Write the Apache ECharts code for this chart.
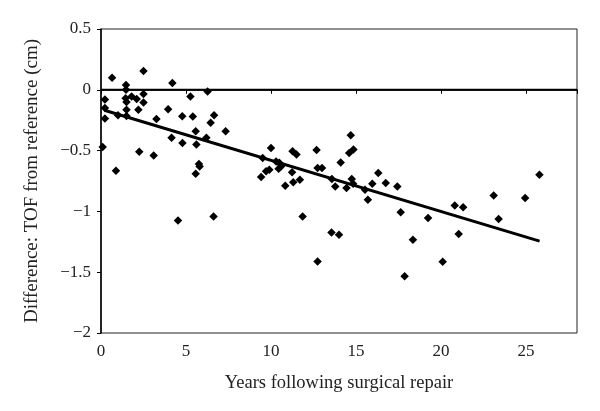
<!DOCTYPE html>
<html>
<head>
<meta charset="utf-8">
<script src="https://cdn.jsdelivr.net/npm/echarts@6/dist/echarts.min.js"></script>
<style>
html,body{margin:0;padding:0;background:#fff;}
#c{width:600px;height:411px;}
</style>
</head>
<body>
<div id="c"></div>
<script>
// Data
const points = [
  [0.1,-0.47],[0.23,-0.08],[0.23,-0.15],[0.23,-0.235],[0.65,0.1],[0.88,-0.665],[1.0,-0.21],
  [1.47,0.04],[1.47,0.0],[1.45,-0.07],[1.5,-0.1],[1.5,-0.165],[1.5,-0.215],[1.8,-0.055],[2.1,-0.075],
  [2.2,-0.165],[2.5,0.155],[2.5,-0.035],[2.5,-0.105],[2.25,-0.51],[3.1,-0.54],[3.26,-0.24],[3.95,-0.16],
  [4.2,0.055],[4.15,-0.395],[4.53,-1.075],[4.78,-0.217],[4.79,-0.437],[5.26,-0.055],[5.4,-0.22],
  [5.57,-0.34],[5.61,-0.45],[5.57,-0.69],[5.76,-0.61],[5.8,-0.63],[6.2,-0.395],[6.27,-0.013],
  [6.45,-0.27],[6.65,-0.21],[6.62,-1.042],[7.33,-0.34],
  [9.42,-0.717],[9.51,-0.56],[9.71,-0.67],[9.9,-0.657],[10.0,-0.478],[10.3,-0.589],[10.49,-0.6],
  [10.59,-0.63],[10.45,-0.65],[10.84,-0.789],[11.24,-0.679],[11.27,-0.506],[11.5,-0.533],[11.31,-0.76],
  [11.7,-0.74],[11.86,-1.042],[12.68,-0.495],[12.74,-0.643],[13.0,-0.643],[12.74,-1.413],[13.58,-0.734],
  [13.56,-1.174],[13.78,-0.795],[14.0,-1.193],[14.1,-0.597],[14.44,-0.808],[14.69,-0.374],[14.6,-0.52],
  [14.85,-0.49],[14.75,-0.734],[14.83,-0.772],[15.53,-0.822],[15.7,-0.905],[15.96,-0.772],[16.31,-0.684],
  [16.75,-0.767],[17.43,-0.795],[17.63,-1.006],[17.86,-1.533],[18.35,-1.234],[19.24,-1.055],[20.1,-1.415],
  [20.81,-0.951],[21.3,-0.965],[21.04,-1.185],[23.1,-0.869],[23.39,-1.063],[24.95,-0.89],[25.79,-0.698]
];
const trendLine = [[0.2,-0.168],[25.8,-1.244]];
const zeroLine = [[0,0],[28,0]];
const xTicks = [0,5,10,15,20,25];
const yTicks = [0.5,0,-0.5,-1,-1.5,-2];

const fmt = v => String(v).replace('-', '\u2212');
const serif = '"Liberation Serif","DejaVu Serif",serif';

const chart = echarts.init(document.getElementById('c'));
chart.setOption({
  animation:false,
  backgroundColor:'#fff',
  grid:{left:101,right:23,top:29,bottom:78,show:true,borderColor:'#222',borderWidth:1},
  xAxis:{
    type:'value',min:0,max:28,interval:5,
    name:'Years following surgical repair',nameLocation:'middle',nameGap:41,
    nameTextStyle:{fontFamily:serif,fontSize:18.5,color:'#222'},
    axisLine:{lineStyle:{color:'#000',width:1.5}},
    axisTick:{show:true,length:4,lineStyle:{color:'#000'}},
    axisLabel:{fontFamily:serif,fontSize:17,color:'#222',margin:10,
      formatter:v=>xTicks.indexOf(v)>=0?fmt(v):''},
    splitLine:{show:false}
  },
  yAxis:{
    type:'value',min:-2,max:0.5,interval:0.5,
    name:'Difference: TOF from reference (cm)',nameLocation:'middle',nameGap:59,
    nameTextStyle:{fontFamily:serif,fontSize:19,color:'#222'},
    axisLine:{lineStyle:{color:'#000',width:1.5}},
    axisTick:{show:true,length:4,lineStyle:{color:'#000'}},
    axisLabel:{fontFamily:serif,fontSize:17,color:'#222',margin:10,
      formatter:v=>yTicks.indexOf(v)>=0?fmt(v):''},
    splitLine:{show:false}
  },
  series:[
    {type:'line',data:zeroLine,symbol:'none',lineStyle:{color:'#000',width:2},z:1},
    {type:'scatter',data:points,symbol:'diamond',symbolSize:8.5,itemStyle:{color:'#000',opacity:1},z:3},
    {type:'line',data:trendLine,symbol:'none',lineStyle:{color:'#000',width:3},z:4}
  ]
});
</script>
</body>
</html>
